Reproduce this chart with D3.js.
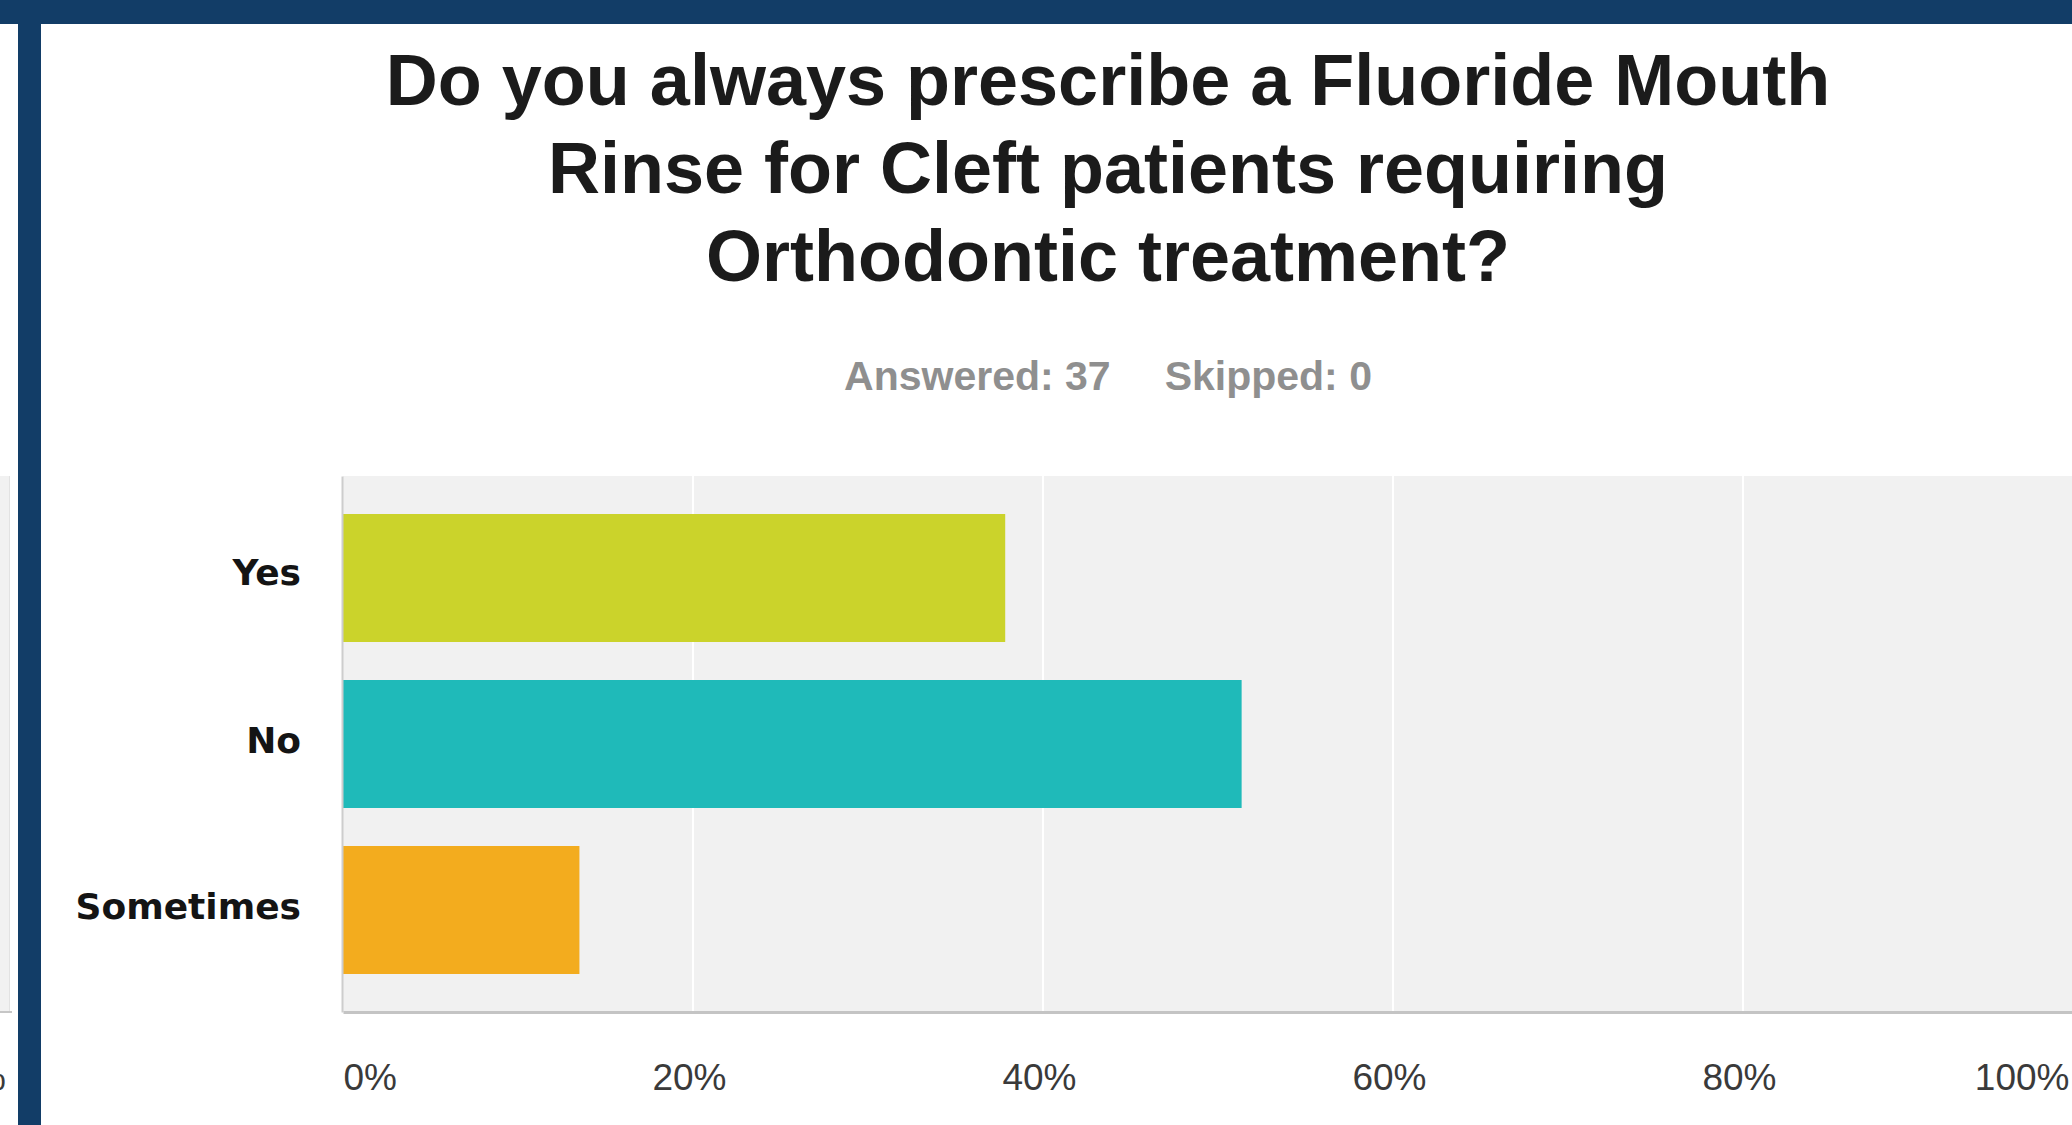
<!DOCTYPE html>
<html>
<head>
<meta charset="utf-8">
<script src="https://cdn.jsdelivr.net/npm/d3@7"></script>
<style>
  html, body { margin: 0; padding: 0; background: #ffffff; overflow: hidden; }
  svg { display: block; }
</style>
</head>
<body>
<svg id="chart" width="2072" height="1125"></svg>
<script>
// Survey question and response summary
const titleLines = [
  "Do you always prescribe a Fluoride Mouth",
  "Rinse for Cleft patients requiring",
  "Orthodontic treatment?"
];
const answeredCount = 37;
const skippedCount = 0;

// Answer choices and their share of respondents (%)
const categories = ["Yes", "No", "Sometimes"];
const percentValues = [37.84, 51.35, 13.51];
const barColors = ["#cbd32b", "#1fbab9", "#f3ac1e"];

// Horizontal axis ticks
const tickValues = [0, 20, 40, 60, 80, 100];
const tickLabels = ["0%", "20%", "40%", "60%", "80%", "100%"];

const W = 2072, H = 1125;
const svg = d3.select("#chart");
const navy = "#123d67";

// Page frame: navy header strip and left divider
svg.append("rect").attr("x", 0).attr("y", 0).attr("width", W).attr("height", 24).attr("fill", navy);
svg.append("rect").attr("x", 18).attr("y", 0).attr("width", 23).attr("height", H).attr("fill", navy);

// Edge of the neighbouring panel on the far left
const plotTop = 476, plotBottom = 1012;
svg.append("rect").attr("x", 0).attr("y", plotTop).attr("width", 10).attr("height", plotBottom - plotTop).attr("fill", "#f1f1f1");
svg.append("line").attr("x1", 9.5).attr("x2", 9.5).attr("y1", plotTop).attr("y2", plotBottom)
  .attr("stroke", "#e2e2e2").attr("stroke-width", 1);
svg.append("line").attr("x1", 0).attr("x2", 12).attr("y1", plotBottom).attr("y2", plotBottom)
  .attr("stroke", "#c6c6c6").attr("stroke-width", 2);
svg.append("text").attr("x", 6).attr("y", 1090).attr("text-anchor", "end")
  .attr("font-family", "'Liberation Sans', Arial, sans-serif").attr("font-size", 37)
  .attr("fill", "#3a3a3a").text("100%");

// Title
const centerX = 1108;
const title = svg.append("g")
  .attr("font-family", "'Liberation Sans', Arial, sans-serif")
  .attr("font-weight", "bold").attr("font-size", 72).attr("fill", "#1b1b1b")
  .attr("text-anchor", "middle");
titleLines.forEach((line, i) => {
  title.append("text").attr("x", centerX).attr("y", 105 + i * 88).text(line);
});

// Answered / skipped summary
const sub = svg.append("g")
  .attr("font-family", "'Liberation Sans', Arial, sans-serif")
  .attr("font-weight", "bold").attr("font-size", 41).attr("fill", "#8f8f8f");
const t1 = sub.append("text").attr("y", 390).text("Answered: " + answeredCount);
const t2 = sub.append("text").attr("y", 390).text("Skipped: " + skippedCount);
const gap = 54;
const w1 = t1.node().getComputedTextLength();
const w2 = t2.node().getComputedTextLength();
const start = centerX - (w1 + gap + w2) / 2;
t1.attr("x", start);
t2.attr("x", start + w1 + gap);

// Scales
const x = d3.scaleLinear().domain([0, 100]).range([343, 2093]);
const y = d3.scaleBand().domain(categories).range([plotTop, plotBottom]).padding(0.229);

// Plot background
svg.append("rect")
  .attr("x", x(0)).attr("y", plotTop)
  .attr("width", x(100) - x(0)).attr("height", plotBottom - plotTop)
  .attr("fill", "#f1f1f1");

// Vertical gridlines
svg.append("g").selectAll("line")
  .data(tickValues.filter(d => d > 0))
  .join("line")
  .attr("x1", d => x(d)).attr("x2", d => x(d))
  .attr("y1", plotTop).attr("y2", plotBottom)
  .attr("stroke", "#ffffff").attr("stroke-width", 2);

// Bars
svg.append("g").selectAll("rect")
  .data(categories)
  .join("rect")
  .attr("x", x(0))
  .attr("y", d => y(d))
  .attr("width", (d, i) => x(percentValues[i]) - x(0))
  .attr("height", y.bandwidth())
  .attr("fill", (d, i) => barColors[i]);

// Category axis
const yAxis = svg.append("g")
  .attr("transform", `translate(${x(0) - 1},0)`)
  .call(d3.axisLeft(y).tickSize(0).tickPadding(41));
yAxis.select(".domain").attr("stroke", "#cdcdcd").attr("stroke-width", 2);
yAxis.selectAll(".tick text")
  .attr("font-family", "'DejaVu Sans', Verdana, sans-serif")
  .attr("font-weight", "bold").attr("font-size", 36).attr("fill", "#141414")
  .attr("dy", d => d === "Yes" ? 7 : 9);

// Percentage axis
const xAxis = svg.append("g")
  .attr("transform", `translate(0,${plotBottom})`)
  .call(d3.axisBottom(x).tickValues(tickValues).tickFormat((d, i) => tickLabels[i]).tickSize(0));
xAxis.select(".domain").attr("stroke", "#c4c4c4").attr("stroke-width", 3);
xAxis.selectAll(".tick text")
  .attr("font-family", "'Liberation Sans', Arial, sans-serif")
  .attr("font-size", 37).attr("fill", "#3a3a3a")
  .attr("y", 78).attr("dy", 0)
  .attr("dx", d => d === 0 ? 0 : (d === 100 ? -24 : -4))
  .attr("text-anchor", d => d === 0 ? "start" : (d === 100 ? "end" : "middle"));
</script>
</body>
</html>
